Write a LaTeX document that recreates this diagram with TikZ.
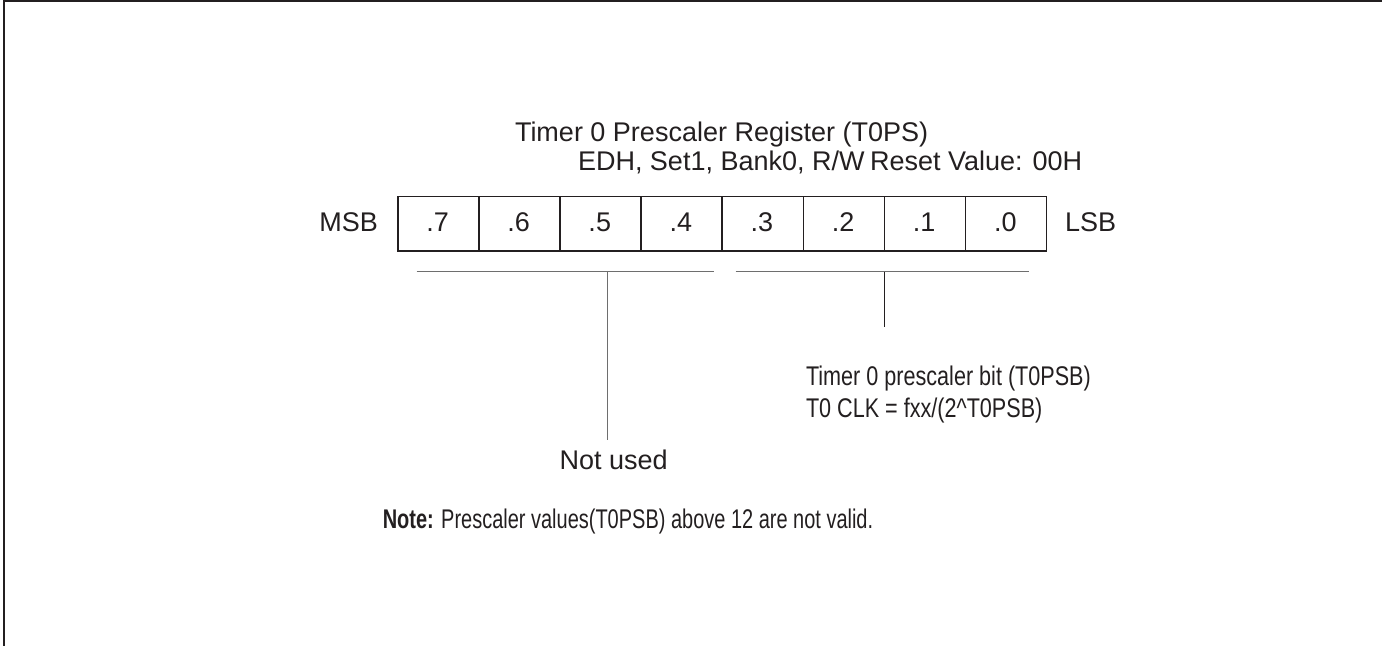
\documentclass[tikz,border=0pt]{standalone}
\usepackage{fontspec}
\setmainfont{Liberation Sans}
\definecolor{ink}{HTML}{231F20}
\definecolor{brk}{HTML}{6E6E6E}
\begin{document}
\begin{tikzpicture}[x=1pt,y=-1pt,
  txt/.style={inner sep=0pt,outer sep=0pt,text=ink,font=\fontsize{27}{32}\selectfont},
  cell/.style={draw=ink,line width=1.6pt,minimum width=81.1pt,minimum height=54.5pt,inner sep=0pt,anchor=north west},
  brkline/.style={draw=brk,line width=1.3pt},
  frame/.style={draw=ink,line width=2pt}]
\useasboundingbox (0,0) rectangle (1382,646);
\fill[white] (0,0) rectangle (1382,646);
% frame (top and left edges)
\coordinate (ftl) at (4,1);
\coordinate (ftr) at (1382,1);
\coordinate (fbl) at (4,646);
\draw[frame] (ftr) -- (ftl) -- (fbl);
% title
\node[txt,anchor=base west] (title) at (515,141.7) {Timer 0 Prescaler Register (T0PS)};
\node[txt,anchor=base west] (addr) at (578,170) {EDH, Set1, Bank0, R/W};
\node[txt,anchor=base west] (reset) at (870,170) {Reset Value: 00H};
% register cells
\foreach \i/\b in {0/7,1/6,2/5,3/4,4/3,5/2,6/1,7/0}{
  \node[cell] (c\i) at ({397+81.1*\i},195.5) {};
  \node[txt,anchor=base] (t\i) at ({397+81.1*(\i+0.5)},231.7) {.\b};
}
\node[txt,anchor=base east] (msb) at (378,231.7) {MSB};
\node[txt,anchor=base west] (lsb) at (1065,231.7) {LSB};
% brackets
\coordinate (la) at (416.7,271.7);
\coordinate (lb) at (714,271.7);
\coordinate (lm) at (607.7,271.7);
\coordinate (ra) at (735.7,271.7);
\coordinate (rb) at (1029,271.7);
\coordinate (rm) at (884,271.7);
\node[txt,anchor=base] (notused) at (613.7,469) {Not used};
\node[txt,anchor=base west] (psb1) at (806,385) {\scalebox{0.8}[1]{Timer 0 prescaler bit (T0PSB)}};
\node[txt,anchor=base west] (psb2) at (806,417) {\scalebox{0.8}[1]{T0 CLK = fxx/(2\^{}T0PSB)}};
\coordinate (lend) at (607.7,440);
\coordinate (rend) at (884,327);
\draw[brkline] (la) -- (lb);
\draw[brkline] (ra) -- (rb);
\draw[brkline] (lm) -- (lend);
\draw[draw=ink,line width=1pt] (rm) -- (rend);
% note
\node[txt,anchor=base] (note) at (628,528) {\scalebox{0.74}[1]{\textbf{Note:} Prescaler values(T0PSB) above 12 are not valid.}};
\end{tikzpicture}
\end{document}
